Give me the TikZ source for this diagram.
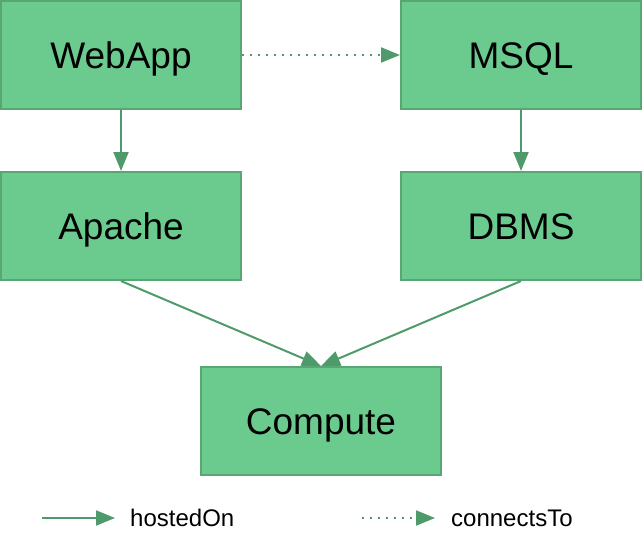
\documentclass[tikz,border=0pt]{standalone}
\usepackage{fontspec}
\setmainfont{Liberation Sans}
\usetikzlibrary{arrows.meta}
\usetikzlibrary{positioning}
\definecolor{boxfill}{HTML}{6BCB8F}
\definecolor{boxline}{HTML}{58A673}
\definecolor{arrowc}{HTML}{4F9A6A}
\begin{document}
\begin{tikzpicture}[x=1pt, y=1pt, node distance=61pt and 158pt, >={Triangle[length=19pt,width=15pt]}]
    \tikzstyle{block} = [draw=boxline, fill=boxfill, line width=2pt, rectangle, minimum width=240pt, minimum height=108pt, text height=26.5pt, text depth=0pt, align=center, font=\fontsize{37}{44}\selectfont];
    \tikzstyle{hosted} = [->, draw=arrowc, line width=2pt];
    \tikzstyle{connects} = [hosted, dash pattern=on 2pt off 6pt];
    \tikzstyle{legend} = [anchor=west, inner sep=0pt, font=\fontsize{24}{29}\selectfont];
    \useasboundingbox (0,0) rectangle (644,-533);
    \node [block] (web) at (121,-55) {WebApp};
    \node [block, right=of web] (sql) {MSQL};
    \node [block, below=of web] (apache) {Apache};
    \node [block, below=of sql] (dbms) {DBMS};
    \path (apache.south) -- (dbms.south) coordinate[midway] (mid);
    \node [block, below=85pt of mid] (comp) {Compute};
    \draw [hosted] (web) -- (apache);
    \draw [hosted] (sql) -- (dbms);
    \draw [connects] (web) -- (sql);
    \draw [hosted] (apache.south) -- (comp.north);
    \draw [hosted] (dbms.south) -- (comp.north);
    % legend
    \coordinate (h0) at (42,-518);
    \node [legend] (hlbl) at (130,-518) {hostedOn};
    \draw [hosted, shorten >=15pt] (h0) -- (hlbl.west);
    \coordinate (c0) at (362,-518);
    \node [legend] (clbl) at (451,-518) {connectsTo};
    \draw [connects, shorten >=16pt] (c0) -- (clbl.west);
  \end{tikzpicture}
\end{document}
